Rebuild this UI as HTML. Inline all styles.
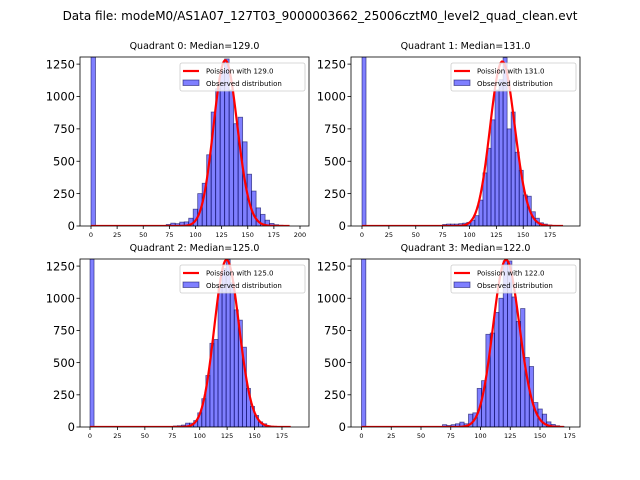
<!DOCTYPE html>
<html><head><meta charset="utf-8">
<style>
body{margin:0;background:#fff;}
svg{display:block;font-family:"DejaVu Sans","Liberation Sans",sans-serif;}
</style></head>
<body>
<svg id="fig" width="640" height="480" xmlns="http://www.w3.org/2000/svg">
<rect width="640" height="480" fill="#fff"/>
<text x="320" y="20" font-size="12" text-anchor="middle">Data file: modeM0/AS1A07_127T03_9000003662_25006cztM0_level2_quad_clean.evt</text>
</svg>
<script>
const quadrantNames = ["Quadrant 0","Quadrant 1","Quadrant 2","Quadrant 3"];
const medians = [129.0, 131.0, 125.0, 122.0];
const binWidths = [4.3, 3.75, 3.7, 3.65];
const binStarts = [72, 75, 76, 68];
const zeroBin = [3000, 3000, 3000, 3000];
const counts0 = [12,22,18,30,32,60,130,250,330,550,880,1060,1200,1290,1050,790,840,650,400,270,140,90,45,20,10,6,3];
const counts1 = [12,15,15,15,18,22,28,45,80,200,410,600,820,1050,1130,1300,750,880,570,430,240,230,110,60,25,15,8,5];
const counts2 = [8,10,15,30,30,50,110,220,400,650,680,1100,1230,1300,1120,910,830,620,300,160,90,40,25,10,5];
const counts3 = [18,12,18,25,38,25,100,110,300,360,720,730,890,1000,1290,1290,1010,820,920,540,470,190,140,100,40,20,10,5];
const allCounts = [counts0,counts1,counts2,counts3];
const curvePeaks = [1280, 1270, 1300, 1300];
const curveMax = [190, 187, 183, 170];
const xTicks0 = [0,25,50,75,100,125,150,175,200];
const xTicksOther = [0,25,50,75,100,125,150,175];
const yTicks = [0,250,500,750,1000,1250];
const yMax = 1305;

const layout = [
  {x0:80,x1:309,y0:57,y1:226,zeroPx:91,ppu:1.045},
  {x0:351,x1:580,y0:57,y1:226,zeroPx:362,ppu:1.075},
  {x0:80,x1:309,y0:259,y1:427,zeroPx:90,ppu:1.097},
  {x0:351,x1:580,y0:259,y1:427,zeroPx:361.5,ppu:1.19}
];
const NS="http://www.w3.org/2000/svg";
const svg=document.getElementById('fig');
function mk(tag,attrs,parent){const e=document.createElementNS(NS,tag);for(const k in attrs)e.setAttribute(k,attrs[k]);(parent||svg).appendChild(e);return e;}
function lgamma(n){let s=0;for(let i=2;i<=n;i++)s+=Math.log(i);return s;}

for(let q=0;q<4;q++){
  const L=layout[q];
  const g=mk('g',{});
  
  
  const xs=v=>L.zeroPx+v*L.ppu;
  const ys=v=>L.y1-(Math.min(v,yMax)/yMax)*(L.y1-L.y0);
  const clipId='clip'+q;
  const cp=mk('clipPath',{id:clipId},g);mk('rect',{x:L.x0,y:L.y0,width:L.x1-L.x0,height:L.y1-L.y0},cp);
  const bars=mk('g',{'clip-path':'url(#'+clipId+')'},g);
  const w=binWidths[q];
  const zb=mk('rect',{x:xs(0),y:ys(zeroBin[q]),width:w*L.ppu,height:L.y1-ys(zeroBin[q]),fill:'rgba(0,0,255,0.5)',stroke:'rgba(0,0,80,0.6)','stroke-width':0.8},bars);
  
  
  const c=allCounts[q];
  for(let i=0;i<c.length;i++){
    const x=binStarts[q]+i*w;
    const r=mk('rect',{x:xs(x),y:ys(c[i]),width:w*L.ppu,height:L.y1-ys(c[i]),fill:'rgba(0,0,255,0.5)',stroke:'rgba(0,0,80,0.6)','stroke-width':0.8},bars);
    
    
  }
  const lam=medians[q];
  const scale=curvePeaks[q]*Math.sqrt(2*Math.PI*lam);
  let d='';
  for(let k=0;k<=curveMax[q];k++){
    const p=Math.exp(k*Math.log(lam)-lam-lgamma(k))*scale;
    d+=(k?'L':'M')+xs(k).toFixed(2)+','+ys(p).toFixed(2);
  }
  const pl=mk('path',{d:d,fill:'none',stroke:'#ff0000','stroke-width':2.2},bars);
  
  
  mk('rect',{x:L.x0,y:L.y0,width:L.x1-L.x0,height:L.y1-L.y0,fill:'none',stroke:'#000','stroke-width':0.8},g);
  const t=mk('text',{x:(L.x0+L.x1)/2,y:L.y0-8,'font-size':9.5,'text-anchor':'middle'},g);
  t.textContent=quadrantNames[q]+': Median='+medians[q].toFixed(1);
  
  
  const xt=q===0?xTicks0:xTicksOther;
  xt.forEach(v=>{
    mk('line',{x1:xs(v),x2:xs(v),y1:L.y1,y2:L.y1+3,stroke:'#000','stroke-width':0.8},g);
    const tx=mk('text',{x:xs(v),y:L.y1+11,'font-size':6.5,'text-anchor':'middle'},g);
    tx.textContent=v;
    
    
  });
  yTicks.forEach(v=>{
    mk('line',{x1:L.x0-3.5,x2:L.x0,y1:ys(v),y2:ys(v),stroke:'#000','stroke-width':0.8},g);
    const ty=mk('text',{x:L.x0-5,y:ys(v)+4.2,'font-size':11.5,'text-anchor':'end'},g);
    ty.textContent=v;
    
    
  });
  const lg=mk('g',{},g);
  
  
  const lx=L.x1-129, ly=L.y0+6;
  mk('rect',{x:lx,y:ly,width:125,height:28,rx:2,fill:'rgba(255,255,255,0.8)',stroke:'#ccc','stroke-width':0.8},lg);
  mk('line',{x1:lx+3,x2:lx+19,y1:ly+8,y2:ly+8,stroke:'#ff0000','stroke-width':2.2},lg);
  const l1=mk('text',{x:lx+26,y:ly+10.5,'font-size':7},lg);l1.textContent='Poission with '+medians[q].toFixed(1);
  
  
  mk('rect',{x:lx+3,y:ly+17,width:16,height:5.5,fill:'rgba(0,0,255,0.5)',stroke:'rgba(0,0,80,0.6)','stroke-width':0.8},lg);
  const l2=mk('text',{x:lx+26,y:ly+23,'font-size':7},lg);l2.textContent='Observed distribution';
  
  
}
</script>
</body></html>
